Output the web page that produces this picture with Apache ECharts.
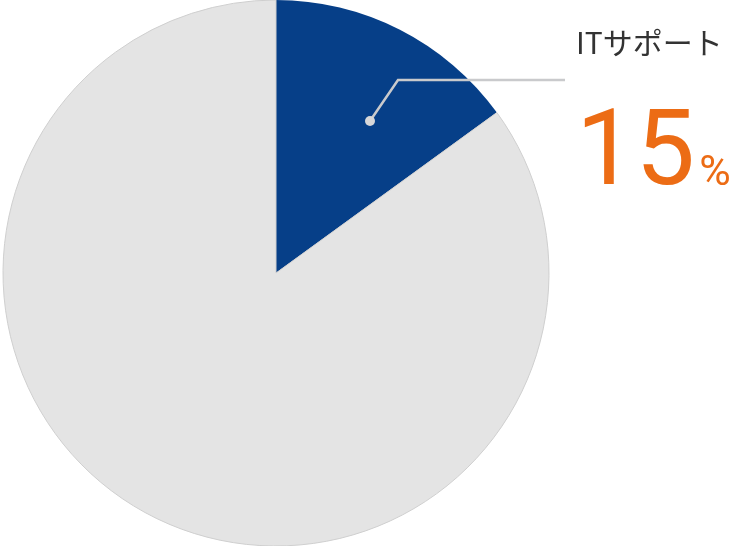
<!DOCTYPE html>
<html><head><meta charset="utf-8">
<script src="https://cdn.jsdelivr.net/npm/echarts@6/dist/echarts.min.js"></script>
<style>html,body{margin:0;padding:0;background:#fff}#c{width:734px;height:546px}</style>
</head><body><div id="c"></div>
<script>
const categories = ['ITサポート', 'その他'];
const values = [15, 85];
const highlightLabel = 'ITサポート';

const chart = echarts.init(document.getElementById('c'), null, {renderer: 'canvas'});
const CX = 276, CY = 273, R = 273;
const dot = [370, 121];

const baseData = categories.map((c, i) => ({name: c, value: values[i]}));

chart.setOption({
  animation: false,
  graphic: [{
    type: 'circle', shape: {cx: dot[0], cy: dot[1], r: 5}, z: 100,
    style: {fill: '#d6d7d9'}
  }],
  series: [{
    type: 'pie',
    z: 1,
    center: [CX, CY],
    radius: [0, R],
    startAngle: 90,
    clockwise: true,
    silent: true,
    label: {show: false}, labelLine: {show: false},
    data: baseData.map((d, i) => Object.assign({}, d, {
      itemStyle: i === 0 ? {color: '#063f88', borderWidth: 0}
                         : {color: '#e4e4e4', borderColor: '#cfcfcf', borderWidth: 1}
    }))
  }, {
    type: 'pie',
    z: 5,
    center: [CX, CY],
    radius: [0, R],
    startAngle: 90,
    clockwise: true,
    silent: true,
    itemStyle: {color: 'rgba(0,0,0,0)'},
    data: baseData.map(d => Object.assign({}, d, {
      label: {show: d.name === highlightLabel},
      labelLine: {show: d.name === highlightLabel, lineStyle: {color: '#c9cacc', width: 2.5}}
    })),
    label: {
      position: 'outside',
      formatter: p => '{name|' + p.name + '}\n{val|' + p.value + '}{pct|%}',
      rich: {
        name: {fontFamily: 'Noto Sans CJK JP', fontSize: 30, color: '#333333', lineHeight: 72, verticalAlign: 'top'},
        val: {fontFamily: 'Roboto', fontSize: 106, color: '#ec6c15', lineHeight: 110, verticalAlign: 'bottom'},
        pct: {fontFamily: 'Roboto', fontSize: 43, color: '#ec6c15', lineHeight: 110, padding: [0, 0, 14, 4], verticalAlign: 'bottom'}
      }
    },
    labelLine: {lineStyle: {color: '#c9cacc', width: 2.5}},
    labelLayout: function (p) {
      return {
        x: 576, y: 28, align: 'left', verticalAlign: 'top',
        labelLinePoints: [dot, [398, 80], [565, 80]]
      };
    }
  }]
});
</script></body></html>
